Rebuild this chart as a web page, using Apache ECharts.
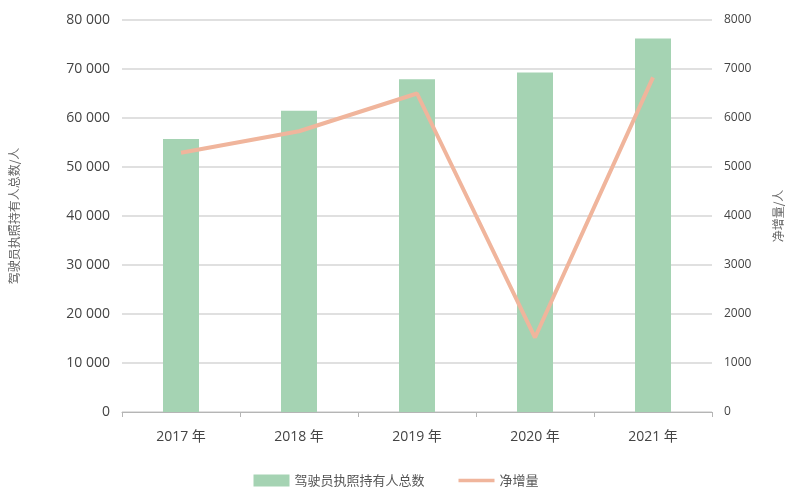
<!DOCTYPE html>
<html><head><meta charset="utf-8">
<script src="https://cdn.jsdelivr.net/npm/echarts@6/dist/echarts.min.js"></script>
<style>html,body{margin:0;padding:0;background:#fff}#c{width:792px;height:494px}</style>
</head><body><div id="c"></div>
<script>
const categories = ['2017 年', '2018 年', '2019 年', '2020 年', '2021 年'];
const totalHolders = [55700, 61500, 67900, 69300, 76200];
const netIncrease = [5290, 5730, 6500, 1520, 6830];
const seriesNames = ['驾驶员执照持有人总数', '净增量'];
const leftAxisName = '驾驶员执照持有人总数/人';
const rightAxisName = '净增量/人';

const fmt = v => v >= 10000 ? String(v).replace(/(\d)(?=(\d{3})+$)/, '$1 ') : String(v);
const font = '"Open Sans","Noto Sans CJK SC",sans-serif';
const chart = echarts.init(document.getElementById('c'));
chart.setOption({
  animation: false,
  textStyle: { fontFamily: font },
  grid: { left: 116, right: 80, top: 20, bottom: 82 },
  legend: {
    bottom: 2, left: 'center', itemWidth: 36, itemHeight: 12, itemGap: 34,
    textStyle: { color: '#555', fontSize: 13, fontFamily: '"Noto Sans CJK SC",sans-serif' },
    data: [
      { name: seriesNames[0], icon: 'rect' },
      { name: seriesNames[1], icon: 'path://M0,0H40V4H0Z' }
    ]
  },
  xAxis: {
    type: 'category', data: categories,
    axisLine: { lineStyle: { color: '#b5b5b5' } },
    axisTick: { show: true, length: 5, lineStyle: { color: '#b5b5b5' } },
    axisLabel: { color: '#444', fontSize: 14, margin: 18 }
  },
  yAxis: [
    {
      type: 'value', min: 0, max: 80000, interval: 10000,
      name: leftAxisName, nameLocation: 'middle', nameGap: 102, nameRotate: 90,
      nameTextStyle: { color: '#666', fontSize: 12, fontFamily: '"Noto Sans CJK SC",sans-serif' },
      axisLine: { show: false }, axisTick: { show: false },
      axisLabel: { color: '#444', fontSize: 14, margin: 12, formatter: fmt },
      splitLine: { lineStyle: { color: '#d6d6d6', width: 1.5 } }
    },
    {
      type: 'value', min: 0, max: 8000, interval: 1000,
      name: rightAxisName, nameLocation: 'middle', nameGap: 60, nameRotate: 90,
      nameTextStyle: { color: '#666', fontSize: 12, fontFamily: '"Noto Sans CJK SC",sans-serif' },
      axisLine: { show: false }, axisTick: { show: false },
      axisLabel: { color: '#444', fontSize: 12, margin: 12, formatter: v => String(v) },
      splitLine: { show: false }
    }
  ],
  series: [
    {
      name: seriesNames[0], type: 'bar', data: totalHolders, barWidth: 36,
      itemStyle: { color: '#a5d3b3' }
    },
    {
      name: seriesNames[1], type: 'line', yAxisIndex: 1, data: netIncrease,
      symbol: 'none', lineStyle: { color: '#f0b59c', width: 4 },
      itemStyle: { color: '#f0b59c' }
    }
  ]
});
</script></body></html>
